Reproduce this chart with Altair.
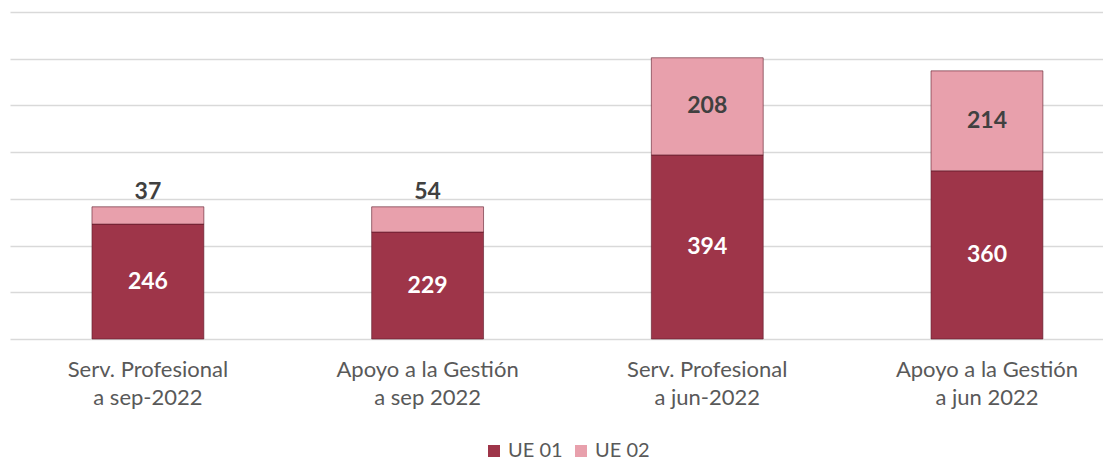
import altair as alt
import pandas as pd

categories = ["Serv. Profesional\na sep-2022", "Apoyo a la Gestión\na sep 2022",
              "Serv. Profesional\na jun-2022", "Apoyo a la Gestión\na jun 2022"]
ue01 = [246, 229, 394, 360]
ue02 = [37, 54, 208, 214]
series = ["UE 01", "UE 02"]

rows = []
for i, c in enumerate(categories):
    rows.append({"cat": c, "serie": series[0], "v0": 0, "v1": ue01[i], "order": 0})
    rows.append({"cat": c, "serie": series[1], "v0": ue01[i], "v1": ue01[i] + ue02[i], "order": 1})
df = pd.DataFrame(rows)

lab = []
for i, c in enumerate(categories):
    lab.append({"cat": c, "serie": series[0], "y": ue01[i] / 2, "txt": str(ue01[i]), "dy": 0})
    if ue02[i] < 100:
        lab.append({"cat": c, "serie": series[1], "y": ue01[i] + ue02[i], "txt": str(ue02[i]), "dy": -15})
    else:
        lab.append({"cat": c, "serie": series[1], "y": ue01[i] + ue02[i] / 2, "txt": str(ue02[i]), "dy": 0})
ldf = pd.DataFrame(lab)

FONT = "Lato"
xscale = alt.Scale(paddingInner=0.6, paddingOuter=0.254, align=0.577)
x = alt.X("cat:N", sort=categories, title=None, scale=xscale,
          axis=alt.Axis(labelExpr="split(datum.label, '\\n')", labelAngle=0, labelFontSize=22,
                        labelColor="#595959", labelFont=FONT, labelPadding=20, labelLineHeight=28,
                        labelLimit=0, ticks=False, domain=False))
yscale = alt.Scale(domain=[0, 700])

bars = alt.Chart(df).mark_bar(stroke="#5a1a28", strokeWidth=0.6).encode(
    x=x,
    y=alt.Y("v0:Q", scale=yscale, title=None,
            axis=alt.Axis(values=[0, 100, 200, 300, 400, 500, 600, 700], labels=False, ticks=False,
                          domain=False, grid=True, gridColor="#d9d9d9", gridWidth=1.5)),
    y2="v1:Q",
    color=alt.Color("serie:N", scale=alt.Scale(domain=series, range=["#9e3549", "#e8a0ac"]),
                    legend=alt.Legend(title=None, orient="none", legendX=474, legendY=429,
                                      direction="horizontal",
                                      symbolType="square", symbolSize=144, labelFontSize=20,
                                      labelColor="#595959", labelFont=FONT, columnPadding=8,
                                      labelOffset=4, symbolStrokeWidth=0)),
)

def txt(serie, color, dy):
    d = ldf[(ldf.serie == serie) & (ldf.dy == dy)]
    return alt.Chart(d).mark_text(fontSize=23, fontWeight="bold", font=FONT, color=color, dy=dy).encode(
        x=alt.X("cat:N", sort=categories, scale=xscale), y=alt.Y("y:Q", scale=yscale), text="txt:N")

chart = alt.layer(
    bars,
    txt("UE 01", "white", 0),
    txt("UE 02", "#404040", 0),
    txt("UE 02", "#404040", -15),
).properties(
    width=1093, height=327, padding={"left": 2, "top": 4, "right": 0, "bottom": 0}
).configure_view(stroke=None)

chart.save("out.html", embed_options={"renderer": "svg", "actions": False})
